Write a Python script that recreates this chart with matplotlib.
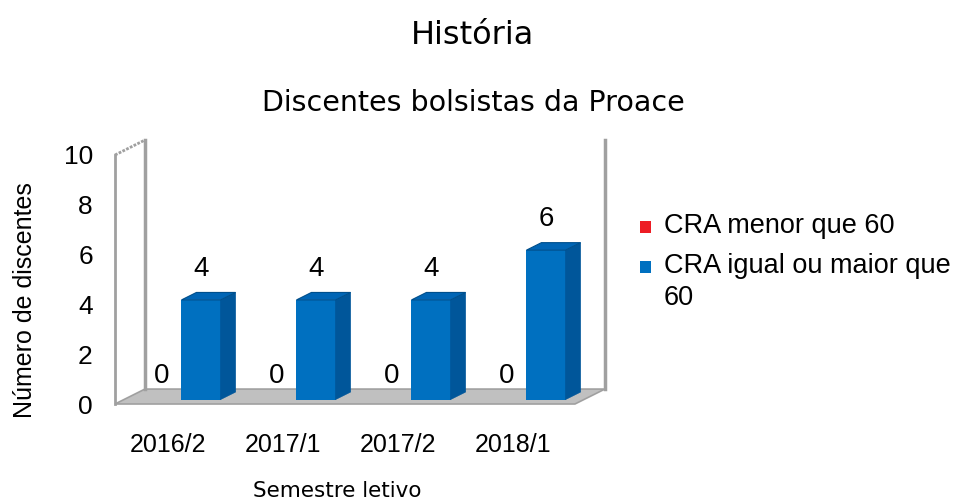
import numpy as np
import matplotlib
matplotlib.use("Agg")
import matplotlib.pyplot as plt
from matplotlib.patches import Polygon, Rectangle

# ---- data ----
semestres = ["2016/2", "2017/1", "2017/2", "2018/1"]
cra_menor = [0, 0, 0, 0]
cra_maior = [4, 4, 4, 6]
series_names = ["CRA menor que 60", "CRA igual ou maior que\n60"]
series_colors = ["#ED1C24", "#0070C0"]

TITLE = "História"
SUBTITLE = "Discentes bolsistas da Proace"
XLABEL = "Semestre letivo"
YLABEL = "Número de discentes"

# ---- 3D look (data units) ----
DX, DY = 0.26, 0.60      # full floor depth offset
F = 0.30                 # depth where bar front faces sit
D = 0.50                 # bar depth (fraction of floor depth)
W = 0.34                 # bar width
WALL = "#A0A0A0"
SIDE = "#00569A"
TOP = "#0065B5"

W_PX, H_PX = 955, 501
fig = plt.figure(figsize=(W_PX / 100, H_PX / 100), dpi=100)
ax = fig.add_axes([115 / W_PX, 1 - 404 / H_PX, 460 / W_PX, 249 / H_PX])
ax.set_xlim(0, 4)
ax.set_ylim(0, 10)
for s in ax.spines.values():
    s.set_visible(False)

n = len(semestres)
x = np.arange(n)

# floor
ax.add_patch(Polygon([(0, 0), (n, 0), (n + DX, DY), (DX, DY)], closed=True,
                     facecolor="#C0C0C0", edgecolor=WALL, lw=1.2, clip_on=False, zorder=1))
# left wall
ax.plot([0, 0], [0, 10], color=WALL, lw=2, clip_on=False, zorder=2)
ax.plot([0, DX], [10, 10 + DY], color=WALL, lw=2, ls=(0, (1, 0.5)), clip_on=False, zorder=2)
ax.plot([DX, DX], [DY, 10 + DY], color=WALL, lw=2.5, clip_on=False, zorder=1)
# right back edge
ax.plot([n + DX, n + DX], [DY, 10 + DY], color=WALL, lw=2.5, clip_on=False, zorder=1)

cx = x + 0.5 + F * DX
base = F * DY


def draw_bars(x0, vals, color, label_dy):
    ax.bar(x0, vals, width=W, bottom=base, align="edge", color=color,
           lw=0, zorder=3, clip_on=False)
    for xi, v in zip(x0, vals):
        x1 = xi + W
        top = base + v
        if v > 0:
            ax.add_patch(Polygon([(x1, base), (x1 + D * DX, base + D * DY),
                                  (x1 + D * DX, top + D * DY), (x1, top)],
                                 closed=True, facecolor=SIDE, edgecolor=SIDE,
                                 lw=0.5, zorder=3, clip_on=False))
            ax.add_patch(Polygon([(xi, top), (x1, top), (x1 + D * DX, top + D * DY),
                                  (xi + D * DX, top + D * DY)], closed=True,
                                 facecolor=TOP, edgecolor="#004F8C", lw=0.8,
                                 zorder=3, clip_on=False))
        ax.text(xi + W / 2, top + label_dy, str(v), ha="center", va="center",
                fontsize=20, family="Liberation Sans", zorder=4)


draw_bars(cx - W, cra_menor, series_colors[0], 0.95)
draw_bars(cx, cra_maior, series_colors[1], 1.25)

ax.set_yticks(range(0, 11, 2))
ax.set_yticklabels([str(v) for v in range(0, 11, 2)], fontsize=19,
                   family="Liberation Sans")
ax.set_xticks(x + 0.46)
ax.set_xticklabels(semestres, fontsize=18, family="Liberation Sans")
ax.tick_params(axis="y", length=0, pad=16)
ax.tick_params(axis="x", length=0, pad=21)

fig.text(472 / W_PX, 1 - 35 / H_PX, TITLE, ha="center", va="center", fontsize=23)
fig.text(473 / W_PX, 1 - 103 / H_PX, SUBTITLE, ha="center", va="center", fontsize=20.5)
fig.text(337 / W_PX, 1 - 491 / H_PX, XLABEL, ha="center", va="center", fontsize=15.5)
fig.text(25 / W_PX, 1 - 300 / H_PX, YLABEL, ha="center", va="center", fontsize=18,
         rotation=90, family="Liberation Sans")

# legend
leg_y = [227, 267]
for name, col, yy in zip(series_names, series_colors, leg_y):
    fig.add_artist(Rectangle((640 / W_PX, 1 - (yy + 6) / H_PX), 11 / W_PX, 12 / H_PX,
                             facecolor=col, edgecolor="none", transform=fig.transFigure))
    fig.text(664 / W_PX, 1 - (yy - 14) / H_PX, name, ha="left", va="top",
             fontsize=19.5, family="Liberation Sans", linespacing=1.3)

fig.savefig("out.png", dpi=100)
